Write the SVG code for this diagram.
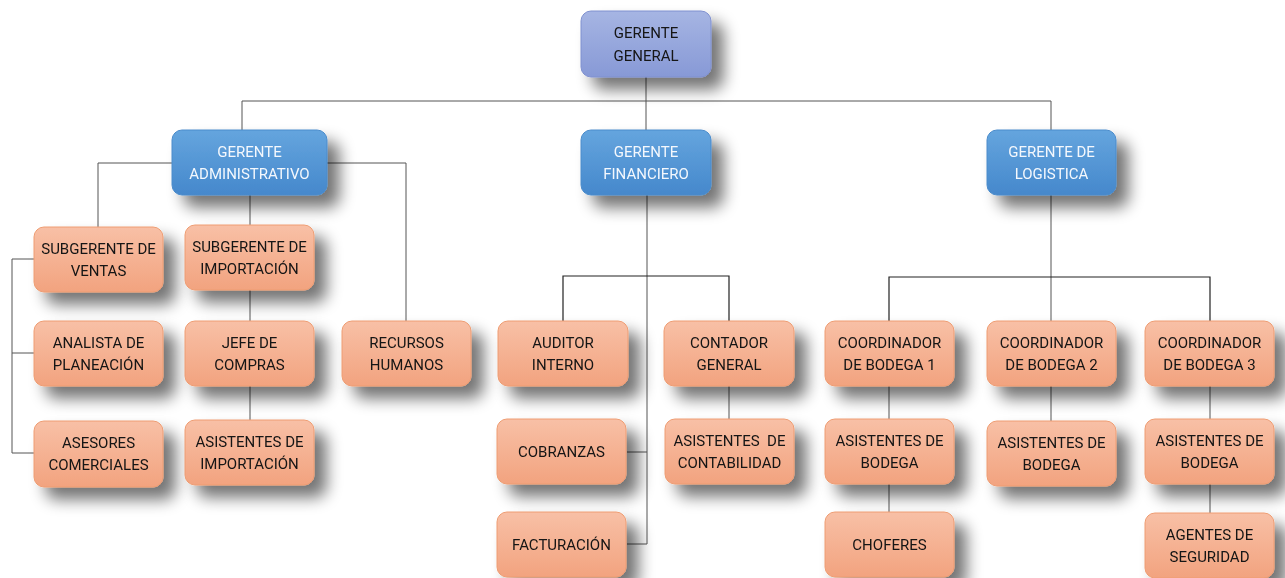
<svg xmlns="http://www.w3.org/2000/svg" width="1285" height="578" viewBox="0 0 1285 578">
<defs>
<linearGradient id="gLav" x1="0" y1="0" x2="0" y2="1"><stop offset="0" stop-color="#a6b5e3"/><stop offset="1" stop-color="#8799d6"/></linearGradient>
<linearGradient id="gBlue" x1="0" y1="0" x2="0" y2="1"><stop offset="0" stop-color="#65a5de"/><stop offset="1" stop-color="#4588cc"/></linearGradient>
<linearGradient id="gOr" x1="0" y1="0" x2="0" y2="1"><stop offset="0" stop-color="#f8c0a6"/><stop offset="1" stop-color="#f2a37f"/></linearGradient>
<filter id="sh" x="-30%" y="-40%" width="170%" height="200%">
<feGaussianBlur in="SourceAlpha" stdDeviation="8"/>
<feOffset dx="12" dy="12" result="b"/>
<feComponentTransfer><feFuncA type="linear" slope="0.55"/></feComponentTransfer>
<feMerge><feMergeNode/><feMergeNode in="SourceGraphic"/></feMerge>
</filter>
<style>
.lav{fill:url(#gLav);stroke:#7f90cf;stroke-width:1}
.blue{fill:url(#gBlue);stroke:#4a8bcb;stroke-width:1}
.or{fill:url(#gOr);stroke:#ee9c72;stroke-width:1}
text{font-family:Roboto,"Liberation Sans",sans-serif;font-size:15px;text-anchor:middle}
.dk{fill:#141414}
.wh{fill:#f4f8fd}
.c{fill:none;stroke:#555;stroke-width:1}
.c2{fill:none;stroke:#222;stroke-width:1.2}
</style>
</defs>
<rect width="1285" height="578" fill="#ffffff"/>
<g id="connectors">
<path class="c" d="M646 77V101M242 101H1051M242 101V130M646 101V130M1051 101V130"/>
<path class="c" d="M98 163H406M98 163V227M406 163V321M250 195V420"/>
<path class="c" d="M34 259H12V453H34M12 353H34"/>
<path class="c" d="M647 195V544M627 452H647M627 544H647M729 386V419"/>
<path class="c2" d="M563 321V276H729V321"/>
<path class="c" d="M1051 195V321M889 386V512M1051 386V421M1210 386V513"/>
<path class="c2" d="M889 321V277H1210V321"/>
</g>
<g id="gerente-general" filter="url(#sh)"><rect class="lav" x="581" y="11" width="130" height="66" rx="10"/><text class="dk" x="646" y="38">GERENTE</text><text class="dk" x="646" y="61">GENERAL</text></g>
<g id="gerente-administrativo" filter="url(#sh)"><rect class="blue" x="172" y="130" width="155" height="65" rx="10"/><text class="wh" x="249.5" y="157">GERENTE</text><text class="wh" x="249.5" y="179">ADMINISTRATIVO</text></g>
<g id="gerente-financiero" filter="url(#sh)"><rect class="blue" x="581" y="130" width="130" height="65" rx="10"/><text class="wh" x="646" y="157">GERENTE</text><text class="wh" x="646" y="179">FINANCIERO</text></g>
<g id="gerente-logistica" filter="url(#sh)"><rect class="blue" x="987" y="130" width="129" height="65" rx="10"/><text class="wh" x="1051.5" y="157">GERENTE DE</text><text class="wh" x="1051.5" y="179">LOGISTICA</text></g>
<g id="subgerente-ventas" filter="url(#sh)"><rect class="or" x="34" y="227" width="129" height="65" rx="10"/><text class="dk" x="98.5" y="254">SUBGERENTE DE</text><text class="dk" x="98.5" y="276">VENTAS</text></g>
<g id="analista-planeacion" filter="url(#sh)"><rect class="or" x="34" y="321" width="129" height="65" rx="10"/><text class="dk" x="98.5" y="348">ANALISTA DE</text><text class="dk" x="98.5" y="370">PLANEACIÓN</text></g>
<g id="asesores-comerciales" filter="url(#sh)"><rect class="or" x="34" y="421" width="129" height="66" rx="10"/><text class="dk" x="98.5" y="448">ASESORES</text><text class="dk" x="98.5" y="470">COMERCIALES</text></g>
<g id="subgerente-importacion" filter="url(#sh)"><rect class="or" x="185" y="225" width="129" height="65" rx="10"/><text class="dk" x="249.5" y="252">SUBGERENTE DE</text><text class="dk" x="249.5" y="274">IMPORTACIÓN</text></g>
<g id="jefe-compras" filter="url(#sh)"><rect class="or" x="185" y="321" width="129" height="65" rx="10"/><text class="dk" x="249.5" y="348">JEFE DE</text><text class="dk" x="249.5" y="370">COMPRAS</text></g>
<g id="asistentes-importacion" filter="url(#sh)"><rect class="or" x="185" y="420" width="129" height="65" rx="10"/><text class="dk" x="249.5" y="447">ASISTENTES DE</text><text class="dk" x="249.5" y="469">IMPORTACIÓN</text></g>
<g id="recursos-humanos" filter="url(#sh)"><rect class="or" x="342" y="321" width="129" height="65" rx="10"/><text class="dk" x="406.5" y="348">RECURSOS</text><text class="dk" x="406.5" y="370">HUMANOS</text></g>
<g id="auditor-interno" filter="url(#sh)"><rect class="or" x="498" y="321" width="130" height="65" rx="10"/><text class="dk" x="563" y="348">AUDITOR</text><text class="dk" x="563" y="370">INTERNO</text></g>
<g id="contador-general" filter="url(#sh)"><rect class="or" x="664" y="321" width="130" height="65" rx="10"/><text class="dk" x="729" y="348">CONTADOR</text><text class="dk" x="729" y="370">GENERAL</text></g>
<g id="cobranzas" filter="url(#sh)"><rect class="or" x="497" y="419" width="129" height="65" rx="10"/><text class="dk" x="561.5" y="457">COBRANZAS</text></g>
<g id="facturacion" filter="url(#sh)"><rect class="or" x="497" y="512" width="129" height="65" rx="10"/><text class="dk" x="561.5" y="550">FACTURACIÓN</text></g>
<g id="asistentes-contabilidad" filter="url(#sh)"><rect class="or" x="665" y="419" width="129" height="65" rx="10"/><text class="dk" x="729.5" y="446" xml:space="preserve">ASISTENTES  DE</text><text class="dk" x="729.5" y="468">CONTABILIDAD</text></g>
<g id="coordinador-bodega-1" filter="url(#sh)"><rect class="or" x="825" y="321" width="129" height="65" rx="10"/><text class="dk" x="889.5" y="348">COORDINADOR</text><text class="dk" x="889.5" y="370">DE BODEGA 1</text></g>
<g id="coordinador-bodega-2" filter="url(#sh)"><rect class="or" x="987" y="321" width="129" height="65" rx="10"/><text class="dk" x="1051.5" y="348">COORDINADOR</text><text class="dk" x="1051.5" y="370">DE BODEGA 2</text></g>
<g id="coordinador-bodega-3" filter="url(#sh)"><rect class="or" x="1145" y="321" width="129" height="65" rx="10"/><text class="dk" x="1209.5" y="348">COORDINADOR</text><text class="dk" x="1209.5" y="370">DE BODEGA 3</text></g>
<g id="asistentes-bodega-1" filter="url(#sh)"><rect class="or" x="825" y="419" width="129" height="65" rx="10"/><text class="dk" x="889.5" y="446">ASISTENTES DE</text><text class="dk" x="889.5" y="468">BODEGA</text></g>
<g id="asistentes-bodega-2" filter="url(#sh)"><rect class="or" x="987" y="421" width="129" height="65" rx="10"/><text class="dk" x="1051.5" y="448">ASISTENTES DE</text><text class="dk" x="1051.5" y="470">BODEGA</text></g>
<g id="asistentes-bodega-3" filter="url(#sh)"><rect class="or" x="1145" y="419" width="129" height="65" rx="10"/><text class="dk" x="1209.5" y="446">ASISTENTES DE</text><text class="dk" x="1209.5" y="468">BODEGA</text></g>
<g id="choferes" filter="url(#sh)"><rect class="or" x="825" y="512" width="129" height="65" rx="10"/><text class="dk" x="889.5" y="550">CHOFERES</text></g>
<g id="agentes-seguridad" filter="url(#sh)"><rect class="or" x="1145" y="513" width="129" height="65" rx="10"/><text class="dk" x="1209.5" y="540">AGENTES DE</text><text class="dk" x="1209.5" y="562">SEGURIDAD</text></g>
</svg>
